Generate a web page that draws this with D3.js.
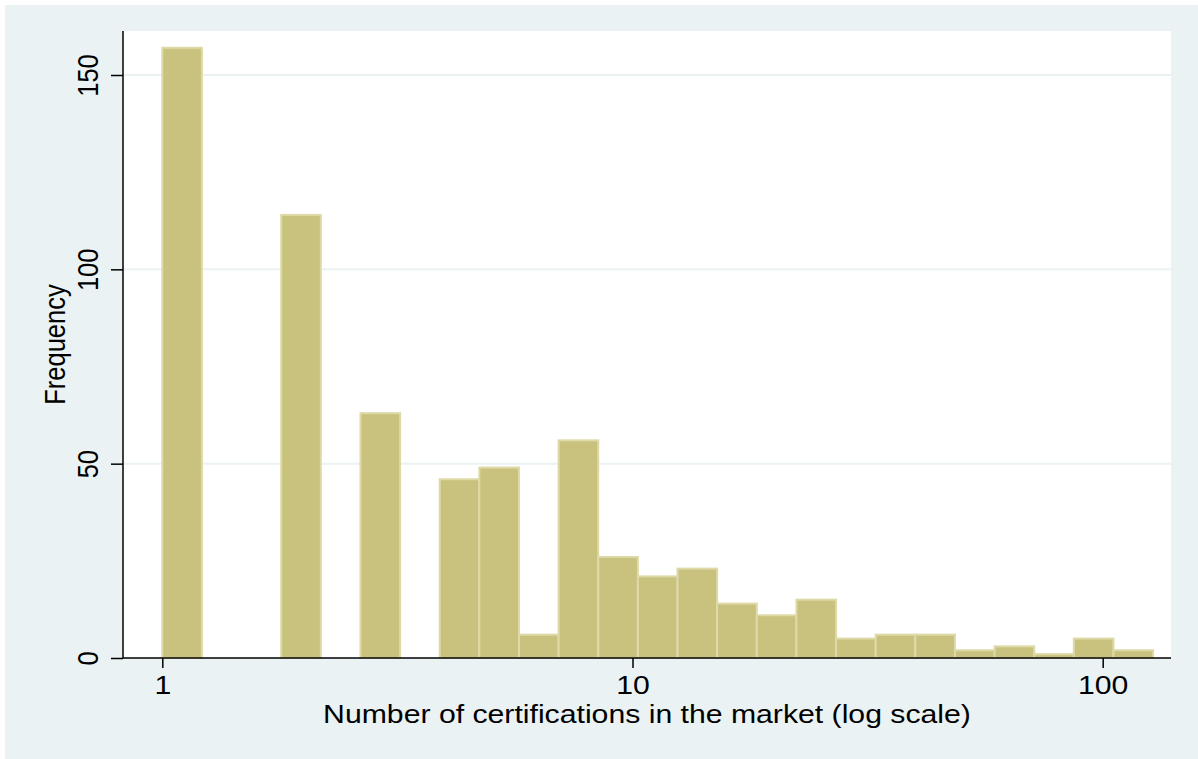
<!DOCTYPE html>
<html>
<head>
<meta charset="utf-8">
<script src="https://cdn.jsdelivr.net/npm/d3@7"></script>
<style>
  html, body { margin: 0; padding: 0; background: #ffffff; }
  svg { display: block; }
  text { font-family: "Liberation Sans", Arial, Helvetica, sans-serif; fill: #000; }
</style>
</head>
<body>
<svg id="chart" width="1198" height="759"></svg>
<script>
// Histogram of certification counts, 25 bins equally spaced on a log axis from 1 to 128
const binCount = 25;
const binMin = 1;
const binMax = 128;
const frequencies = [157, 0, 0, 114, 0, 63, 0, 46, 49, 6, 56, 26, 21, 23, 14, 11, 15, 5, 6, 6, 2, 3, 1, 5, 2];
const xTickValues = [1, 10, 100];
const xTickLabels = ["1", "10", "100"];
const yTickValues = [0, 50, 100, 150];
const yTickLabels = ["0", "50", "100", "150"];
const xTitle = "Number of certifications in the market (log scale)";
const yTitle = "Frequency";

// Bin edges: equal widths in log space
const logStep = (Math.log10(binMax) - Math.log10(binMin)) / binCount;
const bins = frequencies.map((f, i) => ({
  x0: Math.pow(10, Math.log10(binMin) + i * logStep),
  x1: Math.pow(10, Math.log10(binMin) + (i + 1) * logStep),
  count: f
}));

const W = 1198, H = 759;
const plot = { left: 123, right: 1171, top: 31, bottom: 658 };
const fontSize = 25.5;
const widen = 1.185;   // text is set slightly wide

const svg = d3.select("#chart");

// Outer graph region and white plot region
svg.append("rect").attr("x", 5).attr("y", 5).attr("width", W - 5).attr("height", H - 5)
  .attr("fill", "#eaf2f3");
svg.append("rect").attr("x", plot.left).attr("y", plot.top)
  .attr("width", plot.right - plot.left).attr("height", plot.bottom - plot.top)
  .attr("fill", "#ffffff");

const x = d3.scaleLog().domain([1, 100]).range([162.3, 1102.7]);
const y = d3.scaleLinear().domain([0, 150]).range([plot.bottom, 75]);

// Horizontal grid lines
svg.append("g").selectAll("line")
  .data(yTickValues.filter(v => v > 0))
  .join("line")
  .attr("x1", plot.left).attr("x2", plot.right)
  .attr("y1", d => y(d)).attr("y2", d => y(d))
  .attr("stroke", "#eaf2f3").attr("stroke-width", 2);

// Bars
svg.append("g").selectAll("rect")
  .data(bins.filter(b => b.count > 0))
  .join("rect")
  .attr("x", d => x(d.x0))
  .attr("width", d => x(d.x1) - x(d.x0))
  .attr("y", d => y(d.count))
  .attr("height", d => y(0) - y(d.count))
  .attr("fill", "#c9c27f")
  .attr("stroke", "#dedaa8")
  .attr("stroke-width", 2);

// X axis
const xAxis = d3.axisBottom(x)
  .tickValues(xTickValues)
  .tickFormat((d, i) => xTickLabels[i])
  .tickSize(10)
  .tickSizeOuter(0)
  .tickPadding(8);
const gx = svg.append("g").attr("transform", `translate(0,${plot.bottom})`).call(xAxis);
gx.select(".domain").remove();
gx.selectAll(".tick line").attr("stroke", "#000").attr("stroke-width", 1.5);
gx.selectAll(".tick text")
  .attr("font-size", fontSize)
  .attr("font-family", "Liberation Sans, Arial, sans-serif")
  .attr("transform", `scale(${widen},1)`);
svg.append("line")
  .attr("x1", plot.left).attr("x2", plot.right)
  .attr("y1", plot.bottom).attr("y2", plot.bottom)
  .attr("stroke", "#000").attr("stroke-width", 1.5);

// Y axis with rotated tick labels
const yAxis = d3.axisLeft(y)
  .tickValues(yTickValues)
  .tickFormat((d, i) => yTickLabels[i])
  .tickSize(12)
  .tickSizeOuter(0);
const gy = svg.append("g").attr("transform", `translate(${plot.left},0)`).call(yAxis);
gy.select(".domain").remove();
gy.selectAll(".tick line").attr("stroke", "#000").attr("stroke-width", 1.5);
gy.selectAll(".tick text")
  .attr("font-size", fontSize)
  .attr("font-family", "Liberation Sans, Arial, sans-serif")
  .attr("x", null).attr("dy", null)
  .attr("text-anchor", "middle")
  .attr("transform", `translate(-25,0) scale(${widen},1) rotate(-90)`);
svg.append("line")
  .attr("x1", plot.left).attr("x2", plot.left)
  .attr("y1", plot.top).attr("y2", plot.bottom)
  .attr("stroke", "#000").attr("stroke-width", 1.5);

// Axis titles
svg.append("text")
  .attr("transform", `translate(${(plot.left + plot.right) / 2},723) scale(${widen},1)`)
  .attr("text-anchor", "middle")
  .attr("font-size", fontSize)
  .text(xTitle);

svg.append("text")
  .attr("transform", `translate(65,${(plot.top + plot.bottom) / 2}) scale(${widen},1) rotate(-90)`)
  .attr("text-anchor", "middle")
  .attr("font-size", fontSize)
  .text(yTitle);
</script>
</body>
</html>
